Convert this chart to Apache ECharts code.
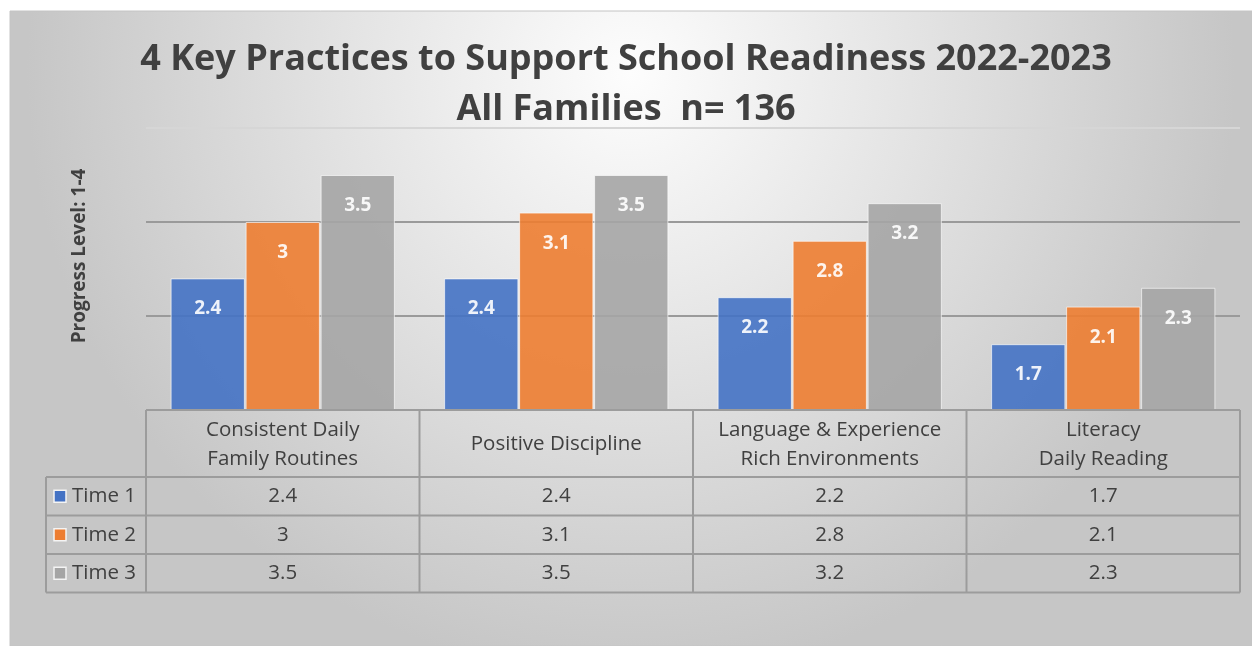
<!DOCTYPE html>
<html>
<head>
<meta charset="utf-8">
<script src="https://cdn.jsdelivr.net/npm/echarts@6/dist/echarts.min.js"></script>
<style>
html,body{margin:0;padding:0;background:#fff;}
#c{width:1252px;height:646px;}
</style>
</head>
<body>
<div id="c"></div>
<script>
const categories = ['Consistent Daily\nFamily Routines', 'Positive Discipline', 'Language & Experience\nRich Environments', 'Literacy\nDaily Reading'];
const seriesNames = ['Time 1', 'Time 2', 'Time 3'];
const time1 = [2.4, 2.4, 2.2, 1.7];
const time2 = [3, 3.1, 2.8, 2.1];
const time3 = [3.5, 3.5, 3.2, 2.3];
const seriesValues = [time1, time2, time3];
const colors = ['#4472C4', '#ED7D31', '#A5A5A5'];
const yTicks = { min: 1, max: 4, interval: 1 };
const titleLines = ['4 Key Practices to Support School Readiness 2022-2023', 'All Families  n= 136'];
const yName = 'Progress Level: 1-4';

const FONT = 'Open Sans';
const TXT = '#404040';
const LINE = '#9c9c9c';
const TS = 20.5;

const chart = echarts.init(document.getElementById('c'), null, { renderer: 'canvas' });

function bgRect() {
  return {
    type: 'rect', z: -100, silent: true,
    shape: { x: 10, y: 11, width: 1242, height: 635 },
    style: {
      fill: new echarts.graphic.RadialGradient(0.5, 0.1, 0.95, [
        { offset: 0, color: '#fdfdfd' },
        { offset: 0.5, color: '#e2e2e2' },
        { offset: 1, color: '#c6c6c6' }
      ]),
      stroke: '#c4c4c4', lineWidth: 1
    }
  };
}

const option = {
  animation: false,
  textStyle: { fontFamily: FONT },
  title: {
    text: titleLines.join('\n'),
    left: 'center', top: 30,
    textStyle: { fontFamily: FONT, fontSize: 36, fontWeight: 'bold', color: TXT, lineHeight: 50 }
  },
  grid: { left: 146, right: 12, top: 128, bottom: 236, containLabel: false },
  xAxis: {
    type: 'category', data: categories,
    axisLine: { show: false }, axisTick: { show: false }, axisLabel: { show: false },
    splitLine: { show: false }
  },
  yAxis: {
    type: 'value', min: yTicks.min, max: yTicks.max, interval: yTicks.interval,
    name: yName, nameLocation: 'middle', nameGap: 57,
    nameTextStyle: { fontFamily: FONT, fontSize: 19, fontWeight: 'bold', color: TXT, padding: [0, 0, 0, 26] },
    axisLine: { show: false }, axisTick: { show: false }, axisLabel: { show: false },
    splitLine: { show: true, lineStyle: { color: ['#9a9a9a', '#9a9a9a', '#9a9a9a', '#d6d6d6'], width: 2 } }
  },
  series: seriesNames.map((n, i) => ({
    name: n, type: 'bar', data: seriesValues[i],
    barCategoryGap: '18%', barGap: '1%',
    itemStyle: { color: colors[i], opacity: 0.9, borderColor: 'rgba(255,255,255,0.7)', borderWidth: 1 },
    label: {
      show: true, position: 'insideTop', distance: 21,
      color: '#fff', fontFamily: FONT, fontWeight: 'bold', fontSize: 19
    }
  })),
  graphic: [bgRect()]
};
chart.setOption(option);

// Build the data table from the library's own axis scales
function buildTable() {
  const centers = categories.map((c, i) => chart.convertToPixel({ xAxisIndex: 0 }, i));
  const band = centers[1] - centers[0];
  const edges = centers.map(c => c - band / 2).concat([centers[centers.length - 1] + band / 2]);
  const top = chart.convertToPixel({ yAxisIndex: 0 }, yTicks.min);
  const headerH = 67;
  const rowH = 38.5;
  const legendLeft = 46;
  const rowsTop = top + headerH;
  const bottom = rowsTop + rowH * seriesNames.length;
  const els = [bgRect()];
  const ln = (x1, y1, x2, y2) => ({ type: 'line', silent: true, z: 5, shape: { x1, y1, x2, y2 }, style: { stroke: LINE, lineWidth: 2 } });
  els.push(ln(edges[0], top, edges[edges.length - 1], top));
  for (let r = 0; r <= seriesNames.length; r++) {
    const y = rowsTop + r * rowH;
    els.push(ln(legendLeft, y, edges[edges.length - 1], y));
  }
  edges.forEach(x => els.push(ln(x, top, x, bottom)));
  els.push(ln(legendLeft, rowsTop, legendLeft, bottom));
  categories.forEach((c, i) => {
    els.push({ type: 'text', silent: true, z: 6, x: centers[i], y: top + headerH / 2 + 1,
      style: { text: c, fontFamily: FONT, fontSize: TS, fill: TXT, align: 'center', verticalAlign: 'middle', lineHeight: 29 } });
  });
  seriesNames.forEach((n, r) => {
    const yc = rowsTop + r * rowH + rowH / 2;
    els.push({ type: 'rect', silent: true, z: 6, shape: { x: 54, y: yc - 6, width: 12, height: 12 },
      style: { fill: colors[r], stroke: '#f4f4f4', lineWidth: 1.5 } });
    els.push({ type: 'text', silent: true, z: 6, x: 72, y: yc,
      style: { text: n, fontFamily: FONT, fontSize: TS, fill: TXT, align: 'left', verticalAlign: 'middle' } });
    seriesValues[r].forEach((v, i) => {
      els.push({ type: 'text', silent: true, z: 6, x: centers[i], y: yc,
        style: { text: String(v), fontFamily: FONT, fontSize: TS, fill: TXT, align: 'center', verticalAlign: 'middle' } });
    });
  });
  chart.setOption({ graphic: els }, { replaceMerge: ['graphic'] });
}
buildTable();
</script>
</body>
</html>
